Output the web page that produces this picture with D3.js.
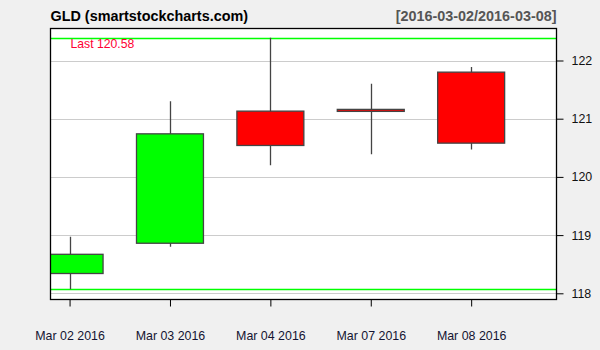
<!DOCTYPE html>
<html>
  <head>
    <meta charset="utf-8">
    <title>GLD</title>
    <style>
      body { margin: 0; background: #f0f0f0; }
      svg { display: block; font-family: "Liberation Sans", Arial, sans-serif; }
    </style>
  </head>
  <body>
    <div id="chart"></div>
    <script src="https://cdn.jsdelivr.net/npm/d3@7"></script>
    <script>
    var dates = ["Mar 02 2016", "Mar 03 2016", "Mar 04 2016", "Mar 07 2016", "Mar 08 2016"];
    var open  = [118.34, 118.86, 121.13, 121.16, 121.80];
    var high  = [118.97, 121.30, 122.39, 121.60, 121.89];
    var low   = [118.07, 118.80, 120.20, 120.39, 120.47];
    var close = [118.67, 120.74, 120.54, 121.14, 120.58];
    var yTicks = [118, 119, 120, 121, 122];

    var width = 600, height = 350;
    var plot = {left: 50.5, right: 556.5, top: 28.5, bottom: 299.5};

    var svg = d3.select("#chart").append("svg")
        .attr("width", width)
        .attr("height", height);

    var x = d3.scaleLinear().domain([-0.19, 4.85]).range([plot.left, plot.right]);
    var y = d3.scaleLinear().domain([118, 122]).range([293.3, 60.5]);
    var bw = x(0.667) - x(0);

    svg.append("defs").append("clipPath").attr("id", "clip")
      .append("rect")
        .attr("x", plot.left).attr("y", plot.top)
        .attr("width", plot.right - plot.left).attr("height", plot.bottom - plot.top);

    svg.append("rect")
        .attr("x", plot.left).attr("y", plot.top)
        .attr("width", plot.right - plot.left).attr("height", plot.bottom - plot.top)
        .attr("fill", "#fff");

    // grid
    svg.append("g").selectAll("line").data(yTicks).join("line")
        .attr("x1", plot.left).attr("x2", plot.right)
        .attr("y1", d => Math.round(y(d)) + 0.5).attr("y2", d => Math.round(y(d)) + 0.5)
        .attr("stroke", "#cccccc").attr("stroke-width", 1);

    // range lines (highest high / lowest low)
    var ext = [d3.max(high), d3.min(low)];
    svg.append("g").selectAll("line").data(ext).join("line")
        .attr("x1", plot.left).attr("x2", plot.right)
        .attr("y1", d => Math.round(y(d)) + 0.5).attr("y2", d => Math.round(y(d)) + 0.5)
        .attr("stroke", "#00ff00").attr("stroke-width", 1.5);

    var g = svg.append("g").attr("clip-path", "url(#clip)");
    var idx = d3.range(dates.length);

    g.selectAll(".wick").data(idx).join("line")
        .attr("x1", i => Math.round(x(i)) + 0.5).attr("x2", i => Math.round(x(i)) + 0.5)
        .attr("y1", i => y(high[i])).attr("y2", i => y(low[i]))
        .attr("stroke", "#444").attr("stroke-width", 1.3);

    g.selectAll(".body").data(idx).join("rect")
        .attr("x", i => x(i) - bw / 2)
        .attr("width", bw)
        .attr("y", i => y(Math.max(open[i], close[i])))
        .attr("height", i => Math.max(2, Math.abs(y(open[i]) - y(close[i]))))
        .attr("fill", i => close[i] > open[i] ? "#00ff00" : "#ff0000")
        .attr("stroke", "#444").attr("stroke-width", 1.3);

    // frame
    svg.append("rect")
        .attr("x", plot.left).attr("y", plot.top)
        .attr("width", plot.right - plot.left).attr("height", plot.bottom - plot.top)
        .attr("fill", "none").attr("stroke", "#000").attr("stroke-width", 1.3);

    // y axis on right
    var yAxis = svg.append("g")
        .attr("transform", "translate(" + plot.right + ",0)")
        .call(d3.axisRight(y).tickValues(yTicks).tickSize(7).tickPadding(8).tickFormat(d3.format("d")));
    yAxis.select(".domain").remove();
    yAxis.selectAll("line").attr("stroke", "#000");
    yAxis.selectAll("text").attr("fill", "#111").style("font-size", "12.4px")
        .style("font-family", "'Liberation Sans', Arial, sans-serif");

    // x axis
    var xAxis = svg.append("g")
        .attr("transform", "translate(0," + plot.bottom + ")")
        .call(d3.axisBottom(x).tickValues(idx).tickSize(7).tickPadding(25).tickFormat(i => dates[i]));
    xAxis.select(".domain").remove();
    xAxis.selectAll("line").attr("stroke", "#000");
    xAxis.selectAll("text").attr("fill", "#141432").style("font-size", "12.4px")
        .style("font-family", "'Liberation Sans', Arial, sans-serif");

    // titles
    svg.append("text")
        .attr("x", plot.left).attr("y", 21)
        .style("font-size", "14.4px").style("font-weight", "bold")
        .attr("fill", "#000")
        .text("GLD (smartstockcharts.com)");

    svg.append("text")
        .attr("x", plot.right).attr("y", 21)
        .attr("text-anchor", "end")
        .style("font-size", "14.4px").style("font-weight", "bold")
        .attr("fill", "#555")
        .text("[" + "2016-03-02" + "/" + "2016-03-08" + "]");

    svg.append("text")
        .attr("x", 70.5).attr("y", 48)
        .style("font-size", "12.2px")
        .attr("fill", "#ff0033")
        .text("Last " + close[close.length - 1].toFixed(2));
    </script>
  </body>
</html>
